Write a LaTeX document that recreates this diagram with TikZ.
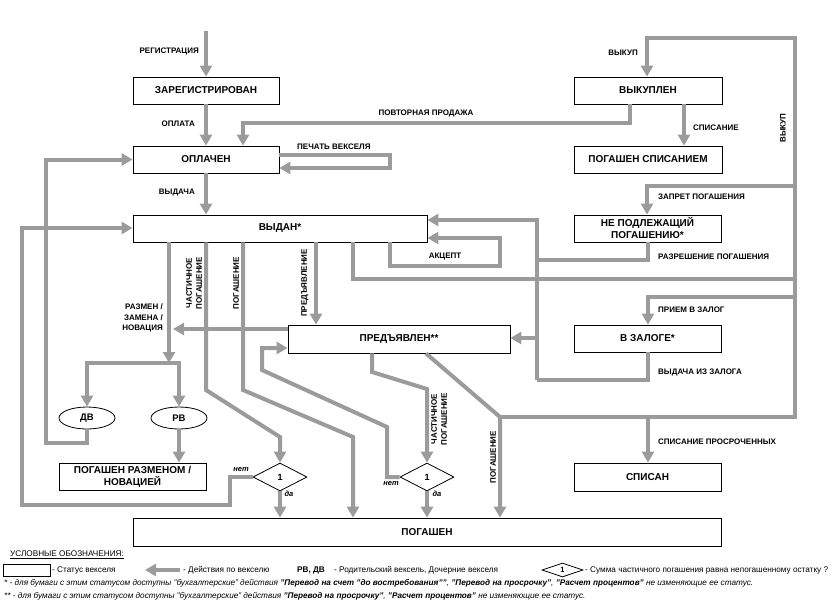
\documentclass[tikz,border=0pt]{standalone}
\usepackage{fontspec}
\setmainfont{Liberation Sans}
\usetikzlibrary{arrows.meta,shapes.geometric}
\definecolor{lg}{RGB}{155,155,155}
\begin{document}
\begin{tikzpicture}[x=1pt,y=-1pt,
  box/.style={draw=black,line width=0.8pt,fill=white,inner sep=0pt,minimum height=27pt,font=\fontsize{10}{12}\selectfont\bfseries,align=center},
  oval/.style={ellipse,draw=black,line width=0.8pt,fill=white,inner sep=0pt,minimum width=56pt,minimum height=22pt,font=\fontsize{9.5}{10}\selectfont\bfseries},
  dia/.style={diamond,draw=black,line width=0.8pt,fill=white,inner sep=0pt,minimum width=54pt,minimum height=28pt,font=\fontsize{9}{10}\selectfont\bfseries},
  conn/.style={draw=lg,line width=4pt},
  arr/.style={conn,-{Triangle[length=11pt,width=12pt]}},
  lbl/.style={font=\fontsize{8}{10}\selectfont\bfseries,inner sep=0pt},
  yn/.style={font=\fontsize{7.5}{9}\selectfont\bfseries\itshape,inner sep=0pt},
  leg/.style={font=\fontsize{8.2}{10}\selectfont,inner sep=0pt,anchor=west},
  dot/.style={fill=lg}
]
\useasboundingbox (0,0) rectangle (833,616);

% ---------- status boxes ----------
\node[box,minimum width=146pt] (reg) at (206,90.5) {ЗАРЕГИСТРИРОВАН};
\node[box,minimum width=146pt] (opl) at (206,159.5) {ОПЛАЧЕН};
\node[box,minimum width=294pt] (vyd) at (280,228.5) {ВЫДАН*};
\node[box,minimum width=148pt] (vykupl) at (648,90.5) {ВЫКУПЛЕН};
\node[box,minimum width=148pt] (pogspis) at (648,159.5) {ПОГАШЕН СПИСАНИЕМ};
\node[box,minimum width=147pt] (nepod) at (647.5,228.5) {НЕ ПОДЛЕЖАЩИЙ\\ПОГАШЕНИЮ*};
\node[box,minimum width=222pt,minimum height=28pt] (pred) at (399,339) {ПРЕДЪЯВЛЕН**};
\node[box,minimum width=147pt] (zalog) at (647.5,338.5) {В ЗАЛОГЕ*};
\node[box,minimum width=147pt,minimum height=28pt] (spisan) at (647.5,477) {СПИСАН};
\node[box,minimum width=588pt,minimum height=28pt] (pog) at (427,532) {ПОГАШЕН};
\node[box,minimum width=147pt] (pograz) at (132.5,476.5) {ПОГАШЕН РАЗМЕНОМ /\\НОВАЦИЕЙ};
\node[oval] (dv) at (87,418) {ДВ};
\node[oval] (rv) at (179,418) {РВ};
\node[dia] (d1) at (280,477) {1};
\node[dia] (d2) at (427,477) {1};

% ---------- connectors ----------
\coordinate (regstart) at (206,31);
\draw[arr] (regstart) -- (reg.north);
\draw[arr] (reg.south) -- (opl.north);
\draw[arr] (opl.south) -- (opl.south |- vyd.north);
% повторная продажа
\draw[arr] (630,0 |- vykupl.south) -- (630,123) -- (243,123) -- (243,0 |- opl.north);
% печать векселя
\draw[arr] (opl.east |- 0,155) -- (390,155) -- (390,168) -- (opl.east |- 0,168);
% списание
\draw[arr] (684,0 |- vykupl.south) -- (684,0 |- pogspis.north);
% выкуп (big loop)
\draw[arr] (353,0 |- vyd.south) -- (353,279) -- (795,279) -- (795,38) -- (647,38) -- (647,0 |- vykupl.north);
% запрет погашения
\draw[arr] (795,186) -- (647,186) -- (647,0 |- nepod.north);
% разрешение погашения / выдача из залога -> выдан
\draw[conn] (648,0 |- nepod.south) -- (648,260) -- (537,260);
\draw[conn] (648,0 |- zalog.south) -- (648,380) -- (537,380);
\draw[arr] (537,380) -- (537,220) -- (vyd.east |- 0,220);
\draw[arr] (537,338) -- (pred.east |- 0,338);
% акцепт
\draw[arr] (390,0 |- vyd.south) -- (390,266) -- (500,266) -- (500,238) -- (vyd.east |- 0,238);
% прием в залог, списание просроченных
\draw[conn] (795,279) -- (795,417) -- (500,417);
\draw[arr] (795,297) -- (648,297) -- (648,0 |- zalog.north);
\draw[arr] (648,417) -- (648,0 |- spisan.north);
% предъявлен -> погашение
\draw[arr] (426,0 |- pred.south) -- (500,417) -- (500,0 |- pog.north);
% предъявлен -> частичное погашение
\draw[arr] (372,0 |- pred.south) -- (372,372) -- (427,389) -- (d2.north);
\draw[arr] (d2.west) -- (387,477) -- (387,427) -- (262,370) -- (262,348) -- (pred.west |- 0,348);
\draw[arr] (d2.south) -- (d2.south |- pog.north);
% выдан -> предъявление
\draw[arr] (316,0 |- vyd.south) -- (316,0 |- pred.north);
% выдан -> частичное погашение
\draw[arr] (206,0 |- vyd.south) -- (206,390) -- (280,437) -- (d1.north);
\draw[arr] (d1.south) -- (d1.south |- pog.north);
\draw[arr] (d1.west) -- (230,477) -- (230,505) -- (22,505) -- (22,228) -- (vyd.west |- 0,228);
% выдан -> погашение
\draw[arr] (243,0 |- vyd.south) -- (243,390) -- (353,437) -- (353,0 |- pog.north);
% предъявлен -> размен
\draw[arr] (pred.west |- 0,329) -- (173,329);
% размен
\draw[arr] (169,0 |- vyd.south) -- (169,363);
\draw[conn] (87,363) -- (179,363);
\draw[arr] (87,361) -- (dv.north);
\draw[arr] (179,361) -- (rv.north);
\draw[arr] (rv.south) -- (rv.south |- pograz.north);
\draw[arr] (dv.south) -- (87,443) -- (46,443) -- (46,159.5) -- (opl.west);
% crossing dots
\fill[dot] (46,228) circle (3);
\fill[dot] (206,329) circle (3);
\fill[dot] (243,329) circle (3);
\fill[dot] (537,279) circle (3);

% ---------- action labels ----------
\node[lbl,anchor=east] (l1) at (199,52) {РЕГИСТРАЦИЯ};
\node[lbl,anchor=east] (l2) at (195,124) {ОПЛАТА};
\node[lbl,anchor=east] (l3) at (195,193) {ВЫДАЧА};
\node[lbl] (l4) at (426,114) {ПОВТОРНАЯ ПРОДАЖА};
\node[lbl,anchor=west] (l5) at (297,147) {ПЕЧАТЬ ВЕКСЕЛЯ};
\node[lbl,anchor=east] (l6) at (638,53) {ВЫКУП};
\node[lbl,anchor=west] (l7) at (693,128) {СПИСАНИЕ};
\node[lbl,rotate=90] (l8) at (783,128) {ВЫКУП};
\node[lbl,anchor=west] (l9) at (658,197) {ЗАПРЕТ ПОГАШЕНИЯ};
\node[lbl,anchor=west] (l10) at (658,257) {РАЗРЕШЕНИЕ ПОГАШЕНИЯ};
\node[lbl] (l11) at (445,257) {АКЦЕПТ};
\node[lbl,anchor=west] (l12) at (658,310) {ПРИЕМ В ЗАЛОГ};
\node[lbl,anchor=west] (l13) at (658,372) {ВЫДАЧА ИЗ ЗАЛОГА};
\node[lbl,anchor=west] (l14) at (658,442) {СПИСАНИЕ ПРОСРОЧЕННЫХ};
\node[lbl,anchor=east,align=right,font=\fontsize{8}{10.5}\selectfont\bfseries] (l15) at (163,318) {РАЗМЕН /\\ЗАМЕНА /\\НОВАЦИЯ};
\node[lbl,rotate=90,align=center,font=\fontsize{8}{10}\selectfont\bfseries] (l16) at (194,283) {ЧАСТИЧНОЕ\\ПОГАШЕНИЕ};
\node[lbl,rotate=90] (l17) at (236,283) {ПОГАШЕНИЕ};
\node[lbl,rotate=90] (l18) at (305,283) {ПРЕДЪЯВЛЕНИЕ};
\node[lbl,rotate=90,align=center,font=\fontsize{8}{10}\selectfont\bfseries] (l19) at (439,419) {ЧАСТИЧНОЕ\\ПОГАШЕНИЕ};
\node[lbl,rotate=90] (l20) at (493,457) {ПОГАШЕНИЕ};
\node[yn] (n1) at (241,470) {нет};
\node[yn] (y1) at (289,494) {да};
\node[yn] (n2) at (391,484) {нет};
\node[yn] (y2) at (437,494) {да};

% ---------- legend ----------
\node[leg] (lgt) at (10,555) {\underline{УСЛОВНЫЕ ОБОЗНАЧЕНИЯ:}};
\node[draw=black,line width=0.8pt,minimum width=47pt,minimum height=12pt,inner sep=0pt] (lgbox) at (26.5,570) {};
\node[leg] (lgb) at (52,570) {- Статус векселя};
\coordinate (lga1) at (180,570);
\coordinate (lga2) at (145,570);
\draw[arr] (lga1) -- (lga2);
\node[leg] (lga) at (183,570) {- Действия по векселю};
\node[leg,font=\fontsize{8.2}{10}\selectfont\bfseries] (lgr) at (297,570) {РВ, ДВ};
\node[leg] (lgr2) at (334,570) {- Родительский вексель, Дочерние векселя};
\node[dia,minimum width=41pt,minimum height=14pt,font=\fontsize{7.5}{8}\selectfont\bfseries] (lgd) at (562.5,570) {1};
\node[leg] (lgd2) at (585,570) {- Сумма частичного погашения равна непогашенному остатку ?};
\node[leg,font=\fontsize{8.2}{10}\selectfont\itshape] (f1) at (4,583) {* - для бумаги с этим статусом доступны "бухгалтерские" действия \textbf{"Перевод на счет "до востребования""}, \textbf{"Перевод на просрочку"}, \textbf{"Расчет процентов"} не изменяющие ее статус.};
\node[leg,font=\fontsize{8.2}{10}\selectfont\itshape] (f2) at (4,596) {** - для бумаги с этим статусом доступны "бухгалтерские" действия \textbf{"Перевод на просрочку"}, \textbf{"Расчет процентов"} не изменяющие ее статус.};
\end{tikzpicture}
\end{document}
